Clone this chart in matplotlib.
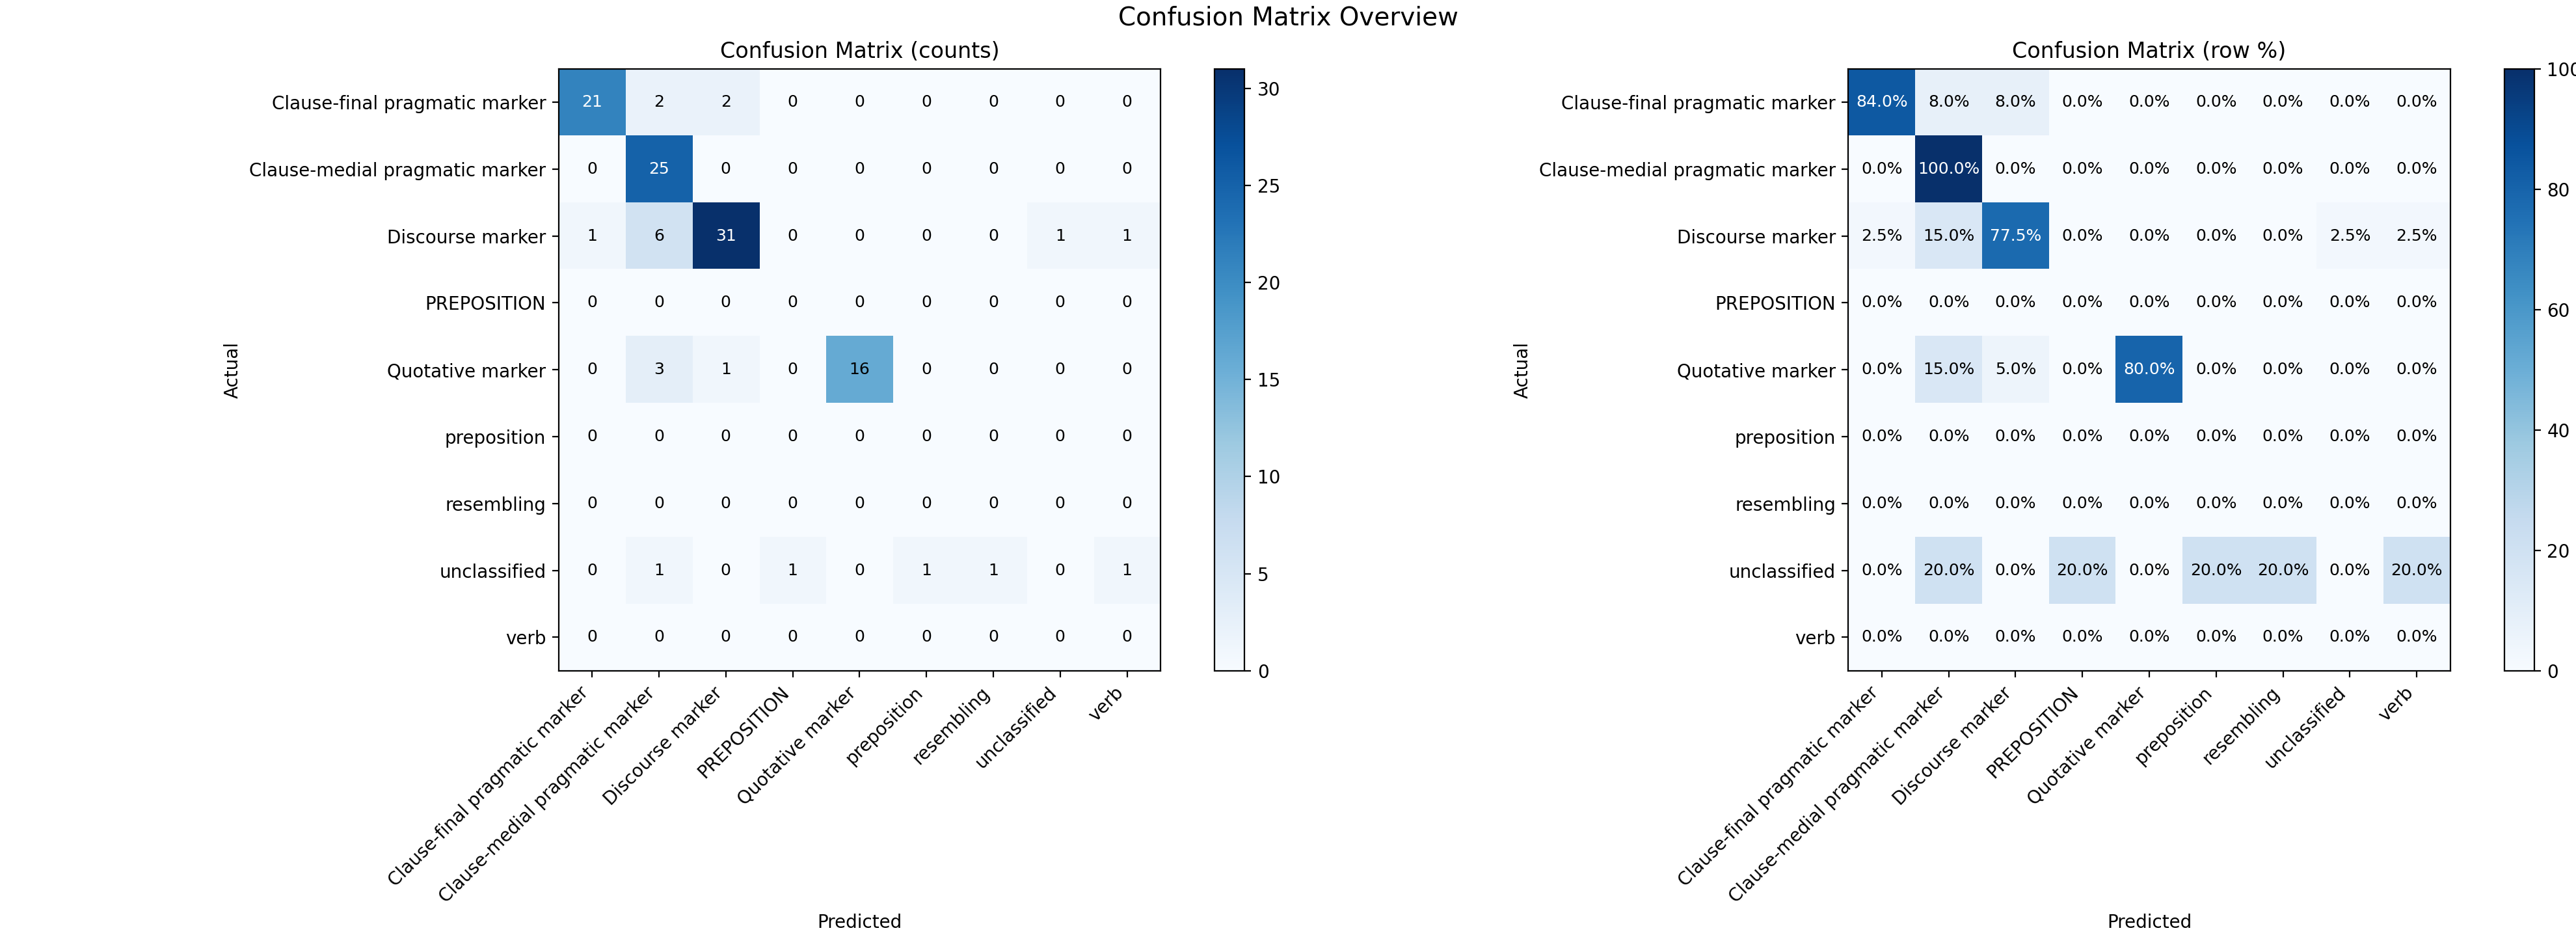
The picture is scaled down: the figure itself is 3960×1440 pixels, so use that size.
import numpy as np
import matplotlib
matplotlib.use("Agg")
import matplotlib.pyplot as plt

labels = ["Clause-final pragmatic marker", "Clause-medial pragmatic marker",
          "Discourse marker", "PREPOSITION", "Quotative marker",
          "preposition", "resembling", "unclassified", "verb"]

# rows = actual, cols = predicted
counts = np.array([
    [21, 2, 2, 0, 0, 0, 0, 0, 0],
    [0, 25, 0, 0, 0, 0, 0, 0, 0],
    [1, 6, 31, 0, 0, 0, 0, 1, 1],
    [0, 0, 0, 0, 0, 0, 0, 0, 0],
    [0, 3, 1, 0, 16, 0, 0, 0, 0],
    [0, 0, 0, 0, 0, 0, 0, 0, 0],
    [0, 0, 0, 0, 0, 0, 0, 0, 0],
    [0, 1, 0, 1, 0, 1, 1, 0, 1],
    [0, 0, 0, 0, 0, 0, 0, 0, 0],
])

row_pct = np.array([
    [84.0, 8.0, 8.0, 0.0, 0.0, 0.0, 0.0, 0.0, 0.0],
    [0.0, 100.0, 0.0, 0.0, 0.0, 0.0, 0.0, 0.0, 0.0],
    [2.5, 15.0, 77.5, 0.0, 0.0, 0.0, 0.0, 2.5, 2.5],
    [0.0, 0.0, 0.0, 0.0, 0.0, 0.0, 0.0, 0.0, 0.0],
    [0.0, 15.0, 5.0, 0.0, 80.0, 0.0, 0.0, 0.0, 0.0],
    [0.0, 0.0, 0.0, 0.0, 0.0, 0.0, 0.0, 0.0, 0.0],
    [0.0, 0.0, 0.0, 0.0, 0.0, 0.0, 0.0, 0.0, 0.0],
    [0.0, 20.0, 0.0, 20.0, 0.0, 20.0, 20.0, 0.0, 20.0],
    [0.0, 0.0, 0.0, 0.0, 0.0, 0.0, 0.0, 0.0, 0.0],
])


def draw_cm(ax, mat, title, fmt):
    im = ax.imshow(mat, cmap="Blues")
    plt.colorbar(im, ax=ax)
    ax.set_xticks(np.arange(len(labels)))
    ax.set_yticks(np.arange(len(labels)))
    ax.set_xticklabels(labels, rotation=45, ha="right")
    ax.set_yticklabels(labels)
    ax.set_xlabel("Predicted")
    ax.set_ylabel("Actual")
    ax.set_title(title)
    thresh = mat.max() * 0.6
    for i in range(mat.shape[0]):
        for j in range(mat.shape[1]):
            ax.text(j, i, fmt(mat[i, j]), ha="center", va="center", fontsize=9,
                    color="white" if mat[i, j] > thresh else "black")


fig, axes = plt.subplots(1, 2, figsize=(19.8, 7.2), layout="constrained")
draw_cm(axes[0], counts, "Confusion Matrix (counts)", lambda v: f"{v:d}")
draw_cm(axes[1], row_pct, "Confusion Matrix (row %)", lambda v: f"{v:.1f}%")
fig.suptitle("Confusion Matrix Overview", fontsize=14)
fig.savefig("out.png", dpi=200)
